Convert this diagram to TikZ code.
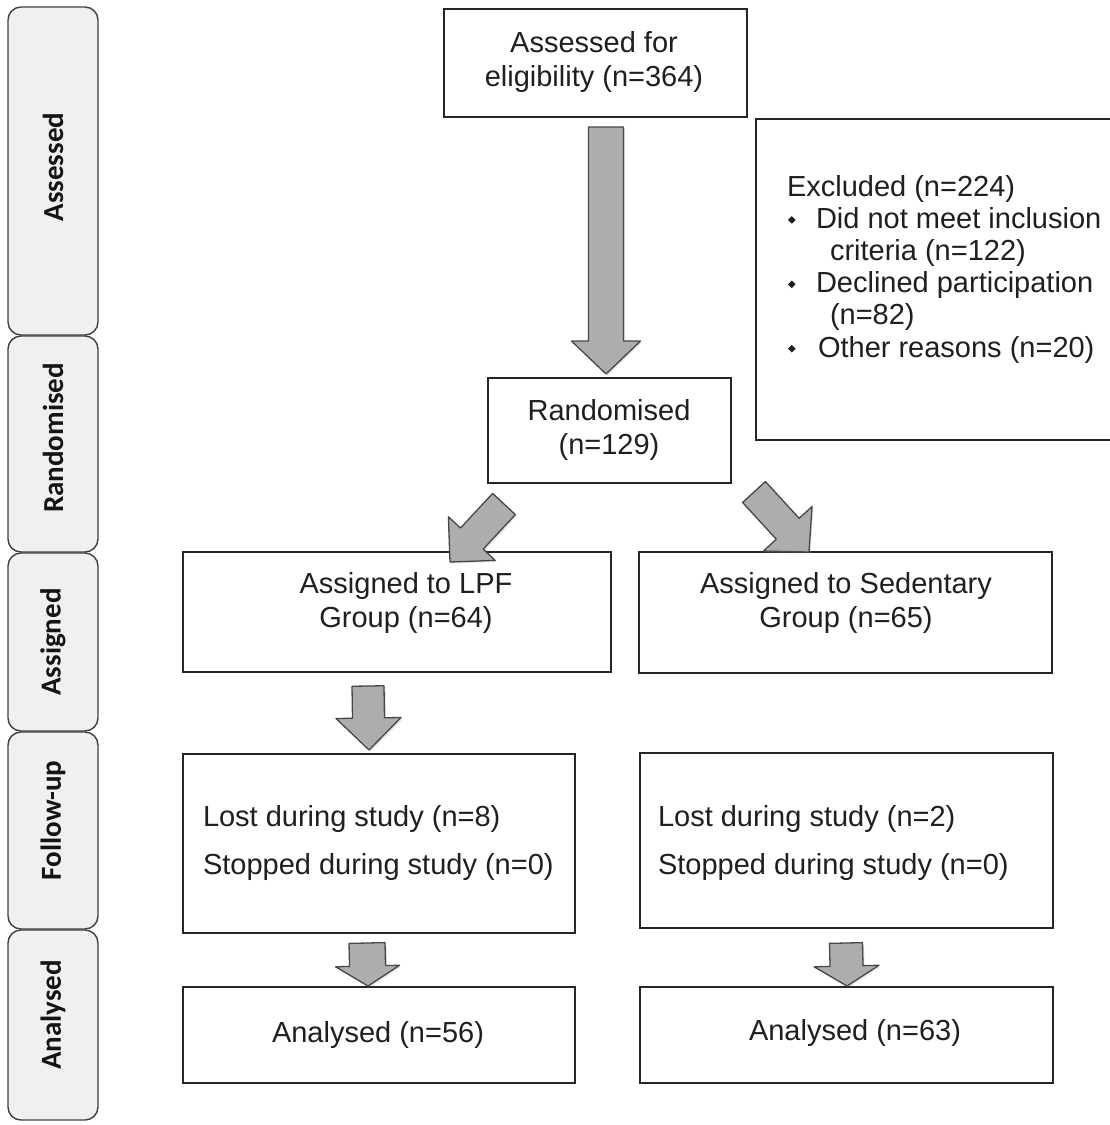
\documentclass[tikz,border=0pt]{standalone}
\usepackage{fontspec}
\setmainfont{Liberation Sans}
\newfontfamily\carlito{Carlito}
\usetikzlibrary{calc,shadows}
\newcommand\blockarrow[6][]{%
  \path[barrow,#1] let \p1=($(#3)-(#2)$), \n1={atan2(\y1,\x1)} in
    ($(#2)+(\n1+90:#4)$)
    -- ($(#3)+(\n1+180:#6)+(\n1+90:#4)$)
    -- ($(#3)+(\n1+180:#6)+(\n1+90:#5)$)
    -- (#3)
    -- ($(#3)+(\n1+180:#6)+(\n1-90:#5)$)
    -- ($(#3)+(\n1+180:#6)+(\n1-90:#4)$)
    -- ($(#2)+(\n1-90:#4)$) -- cycle;}
\newcommand\bulmark{\raisebox{4.5pt}{\rotatebox{45}{\rule{5.4pt}{5.4pt}}}}
\begin{document}
\begin{tikzpicture}[x=1pt,y=-1pt,
  box/.style={draw=black!85, line width=1.4pt, fill=white, inner sep=0pt, outer sep=0pt},
  txt/.style={font=\fontsize{29}{34}\selectfont, text=black!88, inner sep=0pt, outer sep=0pt, align=center},
  panel/.style={draw=black!75, line width=1.4pt, fill=black!6, rounded corners=13pt, inner sep=0pt, outer sep=0pt, minimum width=90pt},
  plabel/.style={font=\carlito\bfseries\fontsize{29}{30}\selectfont, rotate=90, inner sep=0pt, text=black!92},
  barrow/.style={draw=black!72, line width=1.3pt, fill=black!32, line join=round,
    drop shadow={opacity=0.22, shadow xshift=1.5pt, shadow yshift=-1.5pt}}]
\fill[white] (0,0) rectangle (1110,1125);
\useasboundingbox (0,0) rectangle (1110,1125);

% stage panels
\node[panel, minimum height=328pt] (passess) at (53,171) {};
\node[panel, minimum height=216pt] (prand) at (53,444) {};
\node[panel, minimum height=178pt] (passign) at (53,642) {};
\node[panel, minimum height=197pt] (pfollow) at (53,830.5) {};
\node[panel, minimum height=190pt] (panal) at (53,1025) {};
\node[plabel] (lassess) at ($(passess.center)+(0,-4)$) {Assessed};
\node[plabel] (lrand) at ($(prand.center)+(0,-6)$) {Randomised};
\node[plabel] (lassign) at (passign.center) {Assigned};
\node[plabel] (lfollow) at ($(pfollow.center)+(0,-10)$) {Follow-up};
\node[plabel] (lanal) at ($(panal.center)+(0,-10)$) {Analysed};

% boxes
\node[box, minimum width=303pt, minimum height=108pt] (assess) at (595.5,63) {};
\node[box, minimum width=364pt, minimum height=321pt] (excl) at (938,279.5) {};
\node[box, minimum width=243pt, minimum height=105pt] (rand) at (609.5,430.5) {};
\node[box, minimum width=428pt, minimum height=120pt] (lpf) at (397,612) {};
\node[box, minimum width=413pt, minimum height=121pt] (sed) at (845.5,612.5) {};
\node[box, minimum width=392pt, minimum height=179pt] (fl) at (379,843.5) {};
\node[box, minimum width=413pt, minimum height=175pt] (fr) at (846.5,840.5) {};
\node[box, minimum width=392pt, minimum height=96pt] (al) at (379,1035) {};
\node[box, minimum width=413pt, minimum height=96pt] (ar) at (846.5,1035) {};

% texts
\node[txt] (tassess) at (594,62) {Assessed for\\eligibility (n=364)};
\node[txt] (trand) at (609,430) {Randomised\\(n=129)};
\node[txt] (tlpf) at (406,603) {Assigned to LPF\\Group (n=64)};
\node[txt] (tsed) at (846,603) {Assigned to Sedentary\\Group (n=65)};
\node[txt, align=left, anchor=north west] (tfl) at (203,805) {Lost during study (n=8)\\[14pt]Stopped during study (n=0)};
\node[txt, align=left, anchor=north west] (tfr) at (658,805) {Lost during study (n=2)\\[14pt]Stopped during study (n=0)};
\node[txt] (tal) at (378,1035) {Analysed (n=56)};
\node[txt] (tar) at (855,1033) {Analysed (n=63)};
\node[txt, align=left, anchor=north west, font=\fontsize{29}{32.2}\selectfont] (texcl) at (787,175) {%
Excluded (n=224)\\
\makebox[29pt][l]{\hspace*{1pt}\bulmark}Did not meet inclusion\\
\hspace*{43pt}criteria (n=122)\\
\makebox[29pt][l]{\hspace*{1pt}\bulmark}Declined participation\\
\hspace*{43pt}(n=82)\\
\makebox[31pt][l]{\hspace*{1pt}\bulmark}Other reasons (n=20)};

% block arrow end points
\coordinate (a1s) at ($(assess.south)+(10.5,10)$);
\coordinate (a1e) at ($(rand.north)+(-3.5,-4)$);
\coordinate (a2s) at ($(rand.south west)+(16,21)$);
\coordinate (a2e) at ($(lpf.north east)+(-161,10)$);
\coordinate (a3s) at ($(rand.south east)+(23,9)$);
\coordinate (a3e) at ($(sed.north west)+(170,0)$);
\coordinate (a4s) at ($(lpf.south)+(-29,14)$);
\coordinate (a4e) at ($(fl.north)+(-10,-4)$);
\coordinate (a5s) at ($(fl.south)+(-12,10)$);
\coordinate (a5e) at ($(al.north)+(-11,-1)$);
\coordinate (a6s) at ($(fr.south)+(-0.5,15)$);
\coordinate (a6e) at ($(ar.north)+(0.5,-1)$);

\blockarrow{a1s}{a1e}{17.5pt}{34.5pt}{33pt}
\blockarrow{a2s}{a2e}{15.5pt}{32pt}{32pt}
\blockarrow{a3s}{a3e}{15.5pt}{33pt}{31.5pt}
\blockarrow{a4s}{a4e}{16pt}{32.5pt}{32pt}
\blockarrow{a5s}{a5e}{18pt}{32pt}{20pt}
\blockarrow{a6s}{a6e}{16.5pt}{32.5pt}{20pt}
\end{tikzpicture}
\end{document}
